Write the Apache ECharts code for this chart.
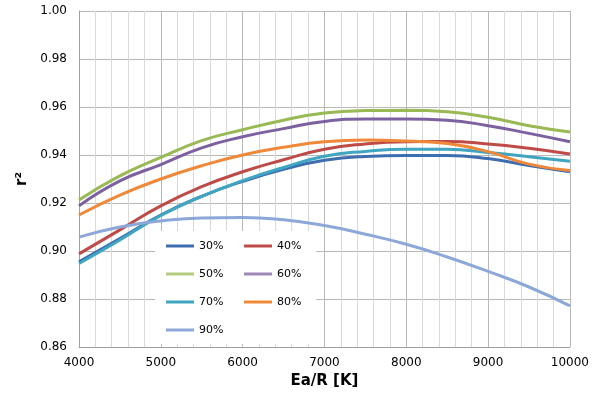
<!DOCTYPE html>
<html><head><meta charset="utf-8">
<script src="https://cdn.jsdelivr.net/npm/echarts@6/dist/echarts.min.js"></script>
<style>html,body{margin:0;padding:0;background:#fff}#c{width:592px;height:407px}</style>
</head><body><div id="c"></div>
<script>
const xs = [4000,4500,5000,5500,6000,6500,7000,7500,8000,8500,9000,9500,10000];
const names = ['30%','40%','50%','60%','70%','80%','90%'];
const s30 = [0.8955,0.9052,0.9150,0.9228,0.9290,0.9340,0.9378,0.9394,0.9398,0.9398,0.9385,0.9356,0.9330];
const s40 = [0.8988,0.9088,0.9188,0.9268,0.9330,0.9380,0.9424,0.9446,0.9455,0.9456,0.9446,0.9428,0.9404];
const s50 = [0.9213,0.9313,0.9390,0.9460,0.9505,0.9545,0.9575,0.9585,0.9586,0.9580,0.9557,0.9522,0.9496];
const s60 = [0.9188,0.9292,0.9360,0.9430,0.9476,0.9510,0.9540,0.9550,0.9550,0.9545,0.9522,0.9490,0.9455];
const s70 = [0.8948,0.9046,0.9148,0.9228,0.9293,0.9348,0.9395,0.9415,0.9424,0.9424,0.9410,0.9393,0.9374];
const s80 = [0.9150,0.9233,0.9300,0.9355,0.9400,0.9432,0.9455,0.9462,0.9458,0.9448,0.9414,0.9362,0.9335];
const s90 = [0.9058,0.9100,0.9125,0.9138,0.9140,0.9130,0.9106,0.9070,0.9028,0.8975,0.8915,0.8850,0.8771];
const colors = ['#3E6DB0','#BE4B48','#98B954','#7D60A0','#3FA5C1','#F0883A','#8DA8D8'];
const allSeries = [s30,s40,s50,s60,s70,s80,s90];

const chart = echarts.init(document.getElementById('c'), null, {renderer:'canvas'});
const font = 'DejaVu Sans';
chart.setOption({
  animation:false,
  backgroundColor:'#fff',
  grid:{left:79,right:20,top:11,bottom:60},
  xAxis:{
    type:'value',min:4000,max:10000,interval:1000,
    name:'Ea/R [K]',nameLocation:'middle',nameGap:27,
    nameTextStyle:{fontFamily:font,fontSize:15,fontWeight:'bold',color:'#000'},
    axisLine:{lineStyle:{color:'#a0a0a0'}},
    axisTick:{show:false},
    axisLabel:{fontFamily:font,fontSize:12,color:'#000',margin:10,formatter:v=>String(v)},
    splitLine:{show:true,lineStyle:{color:'#b8b8b8',width:1}},
    minorTick:{show:false,splitNumber:5},
    minorSplitLine:{show:true,lineStyle:{color:'#d9d9d9',width:1}}
  },
  yAxis:{
    type:'value',min:0.86,max:1.00,interval:0.02,
    name:'r²',nameLocation:'middle',nameGap:44,nameRotate:90,
    nameTextStyle:{fontFamily:font,fontSize:15,fontWeight:'bold',color:'#000'},
    axisLine:{show:true,lineStyle:{color:'#a0a0a0'}},
    axisTick:{show:false},
    axisLabel:{fontFamily:font,fontSize:12,color:'#000',margin:12,formatter:v=>v.toFixed(2)},
    splitLine:{show:true,lineStyle:{color:'#b8b8b8',width:1}}
  },
  legend:{
    left:155,top:231,width:140,padding:[9,10,8,11],
    backgroundColor:'#fff',
    icon:'rect',
    itemWidth:28,itemHeight:3,itemGap:16,
    textStyle:{fontFamily:font,fontSize:11,color:'#000',width:29,lineHeight:12},
    data:names.map((n,i)=>({name:n,itemStyle:{opacity:(i===2||i===3)?0.75:1}}))
  },
  series: allSeries.map((arr,i)=>({
    name:names[i],type:'line',smooth:true,symbol:'none',
    color:colors[i],
    lineStyle:{width:3,color:colors[i]},
    data:xs.map((x,j)=>[x,arr[j]])
  }))
});
</script></body></html>
